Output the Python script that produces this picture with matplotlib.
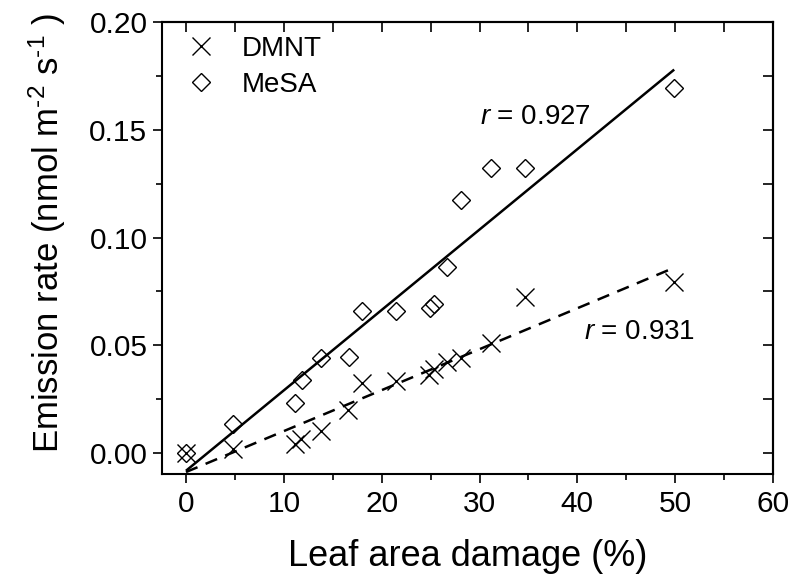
import matplotlib
matplotlib.use("Agg")
import matplotlib.pyplot as plt
import numpy as np

plt.rcParams['font.family'] = ['Liberation Sans', 'DejaVu Sans']
plt.rcParams['mathtext.fontset'] = 'custom'
plt.rcParams['mathtext.rm'] = 'Liberation Sans'
plt.rcParams['mathtext.it'] = 'Liberation Sans:italic'

# Data
dmnt_x = [0.0, 4.8, 11.1, 11.8, 13.8, 16.6, 18.0, 21.5, 24.8, 25.3, 26.7, 28.1, 31.2, 34.6, 49.9]
dmnt_y = [0.0, 0.0019, 0.0042, 0.0064, 0.0103, 0.0200, 0.0323, 0.0334, 0.0362, 0.0388,
          0.0424, 0.0439, 0.0509, 0.0722, 0.0795]
mesa_x = [0.0, 4.8, 11.1, 11.9, 13.8, 16.7, 18.0, 21.5, 24.9, 25.4, 26.7, 28.1, 31.2, 34.6, 49.9]
mesa_y = [0.0, 0.0135, 0.0233, 0.0339, 0.0441, 0.0444, 0.0659, 0.0659, 0.0675, 0.0691,
          0.0864, 0.1173, 0.1324, 0.1324, 0.1695]

# Regression lines (intercept, slope) and their x extent
mesa_fit = [-0.0082, 0.003730]
dmnt_fit = [-0.0088, 0.001900]
fit_x = [0.0, 49.9]

r_labels = ["0.927", "0.931"]

fig = plt.figure(figsize=(8.0, 5.87), dpi=100)
ax = fig.add_axes([0.2025, 0.1925, 0.7638, 0.77])

fx = np.array(fit_x)
ax.plot(fx, mesa_fit[0] + mesa_fit[1] * fx, color='black', lw=1.8, solid_capstyle='butt')
ax.plot(fx, dmnt_fit[0] + dmnt_fit[1] * fx, color='black', lw=1.8, linestyle=(0, (5, 3.5)))

ax.plot(dmnt_x, dmnt_y, linestyle='none', marker='x', ms=12.5, mew=1.0, color='black', label='DMNT')
ax.plot(mesa_x, mesa_y, linestyle='none', marker='D', ms=9, mew=1.0, mfc='none', mec='black', label='MeSA')

ax.text(30.0, 0.156, r"$\mathit{r}$ = " + r_labels[0], fontsize=20, va='center', ha='left')
ax.text(40.7, 0.056, r"$\mathit{r}$ = " + r_labels[1], fontsize=20, va='center', ha='left')

ax.set_xlim(-2.45, 60)
ax.set_ylim(-0.0097, 0.20)
ax.set_xticks(np.arange(0, 61, 10))
ax.set_xticks(np.arange(5, 60, 10), minor=True)
ax.set_yticks(np.arange(0, 0.201, 0.05))
ax.set_yticks(np.arange(0.025, 0.2, 0.05), minor=True)
ax.yaxis.set_major_formatter(matplotlib.ticker.FormatStrFormatter('%.2f'))

for s in ax.spines.values():
    s.set_linewidth(1.5)

ax.tick_params(which='major', direction='out', length=6.5, width=1.2, labelsize=21.5)
ax.tick_params(axis='x', which='major', pad=5)
ax.tick_params(axis='y', which='major', pad=4)
ax.tick_params(which='minor', direction='out', length=4.5, width=1.2)
ax.tick_params(axis='both', top=False, right=False)

secx = ax.secondary_xaxis('top')
secx.set_xticks(np.arange(0, 61, 5))
secx.tick_params(direction='in', length=7, width=1.2, labeltop=False)
secx.spines['top'].set_linewidth(1.5)
secy = ax.secondary_yaxis('right')
secy.set_yticks(np.arange(0, 0.201, 0.025))
secy.tick_params(direction='in', length=7, width=1.2, labelright=False)
secy.spines['right'].set_linewidth(1.5)

ax.set_xlabel("Leaf area damage (%)", fontsize=26, labelpad=15)
ax.set_ylabel(r"Emission rate (nmol m$^{\text{-}2}$ s$^{\text{-}1}$ )", fontsize=25, labelpad=15)
ax.yaxis.label.set_y(0.533)

leg = ax.legend(loc='upper left', bbox_to_anchor=(0.041, 0.969), frameon=False, fontsize=20,
                handlelength=1.0, handletextpad=0.98, borderpad=0, borderaxespad=0,
                labelspacing=0.36)

fig.savefig("out.png", dpi=100)
